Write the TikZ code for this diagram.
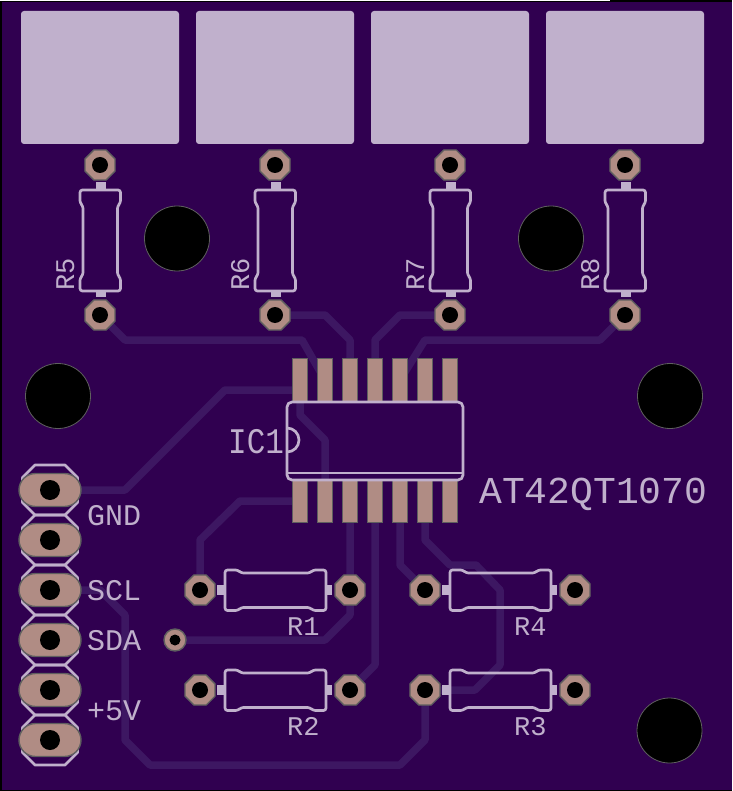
\documentclass[tikz,border=0pt]{standalone}
\usepackage{fontspec}
\usepackage{xcolor}
\usepackage{graphicx}
\setmonofont{Liberation Mono}
\usetikzlibrary{
    shapes.geometric,
    shapes.misc
}
\pgfdeclarelayer{background}
\pgfsetlayers{background,main}
\definecolor{board}{HTML}{300050}
\definecolor{copper}{HTML}{3D1762}
\definecolor{silk}{HTML}{C0B0CC}
\definecolor{padfill}{HTML}{B08C84}
\definecolor{padedge}{HTML}{5F5F5F}
\tikzset{
    trace/.style={draw=copper, line width=7.5pt, line join=round, line cap=round},
    silkline/.style={draw=silk, line width=2.7pt, line join=round},
    silktext/.style={text=silk, inner sep=0pt, anchor=base west, font=\ttfamily\fontsize{#1}{#1}\selectfont},
    padoct/.style={shape=regular polygon, regular polygon sides=8, minimum size=32.5pt, inner sep=0pt,
        draw=padedge, fill=padfill, line width=1.4pt,
        path picture={\fill[black] (path picture bounding box.center) circle (8pt);}},
    padlong/.style={shape=rounded rectangle, minimum width=62pt, minimum height=33pt, inner sep=0pt,
        draw=padedge, fill=padfill, line width=1.4pt,
        path picture={\fill[black] (path picture bounding box.center) circle (10pt);}},
    padvia/.style={shape=circle, minimum size=22pt, inner sep=0pt,
        draw=padedge, fill=padfill, line width=1.4pt,
        path picture={\fill[black] (path picture bounding box.center) circle (5.5pt);}},
    padsmd/.style={shape=rectangle, minimum width=15pt, minimum height=43pt, inner sep=0pt,
        draw=padedge, fill=padfill, line width=1.4pt},
    touchpad/.style={shape=rectangle, minimum width=158pt, minimum height=133pt, inner sep=0pt,
        fill=silk, rounded corners=3pt},
    drillhole/.style={shape=circle, minimum size=65pt, inner sep=0pt,
        draw=padedge, fill=black, line width=0.8pt},
    resbody/.pic={
        \fill[silk] (17,-5) rectangle (25,5);
        \fill[silk] (126,-5) rectangle (132,5);
        \path[silkline, rounded corners=2.5pt] (25,-20) -- (38,-20) -- (41,-17) -- (110,-17) -- (113,-20)
            -- (126,-20) -- (126,20.5) -- (113,20.5) -- (110,17.5) -- (41,17.5) -- (38,20.5) -- (25,20.5) -- cycle;
    },
    headerpin/.pic={
        \path[silkline] (-15,-25) -- (15,-25) -- (27.5,-12.5) -- (27.5,12.5) -- (15,25) -- (-15,25)
            -- (-27.5,12.5) -- (-27.5,-12.5) -- cycle;
    }
}

\begin{document}
\begin{tikzpicture}[x=1pt,y=-1pt]
    \useasboundingbox (0,0) rectangle (732,791);
    % header outline goes under the pads
    \pic at (50,490) {headerpin};
    \pic at (50,540) {headerpin};
    \pic at (50,590) {headerpin};
    \pic at (50,640) {headerpin};
    \pic at (50,690) {headerpin};
    \pic at (50,740) {headerpin};
    % touch pads
    \node[touchpad] (tpa) at (100,77.5) {};
    \node[touchpad] (tpb) at (275,77.5) {};
    \node[touchpad] (tpc) at (450,77.5) {};
    \node[touchpad] (tpd) at (625,77.5) {};
    % drill holes
    \node[drillhole] (hola) at (177,238.5) {};
    \node[drillhole] (holb) at (551,238.5) {};
    \node[drillhole] (holc) at (58,396) {};
    \node[drillhole] (hold) at (670,396) {};
    \node[drillhole] (hole) at (669.5,730.5) {};
    % resistor pads
    \node[padoct] (rea) at (100,165) {};
    \node[padoct] (reb) at (100,315) {};
    \node[padoct] (rfa) at (275,165) {};
    \node[padoct] (rfb) at (275,315) {};
    \node[padoct] (rga) at (450,165) {};
    \node[padoct] (rgb) at (450,315) {};
    \node[padoct] (rha) at (625,165) {};
    \node[padoct] (rhb) at (625,315) {};
    \node[padoct] (raa) at (200,590) {};
    \node[padoct] (rab) at (350,590) {};
    \node[padoct] (rba) at (200,690) {};
    \node[padoct] (rbb) at (350,690) {};
    \node[padoct] (rda) at (425,590) {};
    \node[padoct] (rdb) at (575,590) {};
    \node[padoct] (rca) at (425,690) {};
    \node[padoct] (rcb) at (575,690) {};
    % header pads and via
    \node[padlong] (gnd) at (50,490) {};
    \node[padlong] (pinb) at (50,540) {};
    \node[padlong] (scl) at (50,590) {};
    \node[padlong] (sda) at (50,640) {};
    \node[padlong] (vcc) at (50,690) {};
    \node[padlong] (pinf) at (50,740) {};
    \node[padvia] (via) at (175,640) {};
    % chip pads
    \node[padsmd] (ta) at (300,380) {};
    \node[padsmd] (tb) at (325,380) {};
    \node[padsmd] (tc) at (350,380) {};
    \node[padsmd] (td) at (375,380) {};
    \node[padsmd] (te) at (400,380) {};
    \node[padsmd] (tf) at (425,380) {};
    \node[padsmd] (tg) at (450,380) {};
    \node[padsmd] (ba) at (300,501) {};
    \node[padsmd] (bb) at (325,501) {};
    \node[padsmd] (bc) at (350,501) {};
    \node[padsmd] (bd) at (375,501) {};
    \node[padsmd] (be) at (400,501) {};
    \node[padsmd] (bf) at (425,501) {};
    \node[padsmd] (bg) at (450,501) {};
    % board and traces
    \begin{pgfonlayer}{background}
        \fill[black] (0,0) rectangle (732,791);
        \fill[white] (0,0) rectangle (610,1);
        \fill[board] (1.5,2) rectangle (732,790);
        \draw[trace] (reb.center) -- (125,340) -- (302,340) -- (tb.center);
        \draw[trace] (rfb.center) -- (325,315) -- (350,340) -- (tc.center);
        \draw[trace] (rgb.center) -- (400,315) -- (375,340) -- (td.center);
        \draw[trace] (rhb.center) -- (600,340) -- (425,340) -- (te.center);
        \draw[trace] (gnd.center) -- (125,490) -- (225,390) -- (300,390);
        \draw[trace] (ta.center) -- (300,415) -- (325,440) -- (bb.center);
        \draw[trace] (ba.center) -- (240,501) -- (200,540) -- (raa.center);
        \draw[trace] (bc.center) -- (350,615) -- (325,640) -- (via.center);
        \draw[trace] (bd.center) -- (375,665) -- (rbb.center);
        \draw[trace] (be.center) -- (400,565) -- (rda.center);
        \draw[trace] (bf.center) -- (425,540) -- (450,565) -- (476,565) -- (500,590) -- (500,665) -- (475,690) -- (rca.center);
        \draw[trace] (scl.center) -- (100,590) -- (125,615) -- (125,740) -- (150,765) -- (400,765) -- (425,740) -- (rca.center);
    \end{pgfonlayer}
    % resistor bodies
    \pic[rotate=-90] at (100.5,165) {resbody};
    \pic[rotate=-90] at (275.5,165) {resbody};
    \pic[rotate=-90] at (450.5,165) {resbody};
    \pic[rotate=-90] at (625.5,165) {resbody};
    \pic at (200,590) {resbody};
    \pic at (200,690) {resbody};
    \pic at (425,590) {resbody};
    \pic at (425,690) {resbody};
    % chip outline
    \path[silkline, rounded corners=5pt] (287,402) -- (463,402) -- (463,480) -- (287,480) -- cycle;
    \path[silkline] (287,473) -- (463,473);
    \path[silkline] (287,428) arc[start angle=90, end angle=-90, radius=12pt];
    % labels
    \node[silktext=36] (lblic) at (228,453) {\scalebox{.86}[1]{IC1}};
    \node[silktext=38] (lblat) at (479,503) {AT42QT1070};
    \node[silktext=30] (lblgnd) at (87,525) {GND};
    \node[silktext=30] (lblscl) at (87,600) {SCL};
    \node[silktext=30] (lblsda) at (87,650) {SDA};
    \node[silktext=30] (lblvcc) at (87,720) {+5V};
    \node[silktext=27] (lbla) at (287,635) {R1};
    \node[silktext=27] (lblb) at (287,735) {R2};
    \node[silktext=27] (lblc) at (514,735) {R3};
    \node[silktext=27] (lbld) at (514,635) {R4};
    \node[silktext=27, rotate=90] (lble) at (74,291) {R5};
    \node[silktext=27, rotate=90] (lblf) at (249,291) {R6};
    \node[silktext=27, rotate=90] (lblg) at (424,291) {R7};
    \node[silktext=27, rotate=90] (lblh) at (599,291) {R8};
\end{tikzpicture}
\end{document}
